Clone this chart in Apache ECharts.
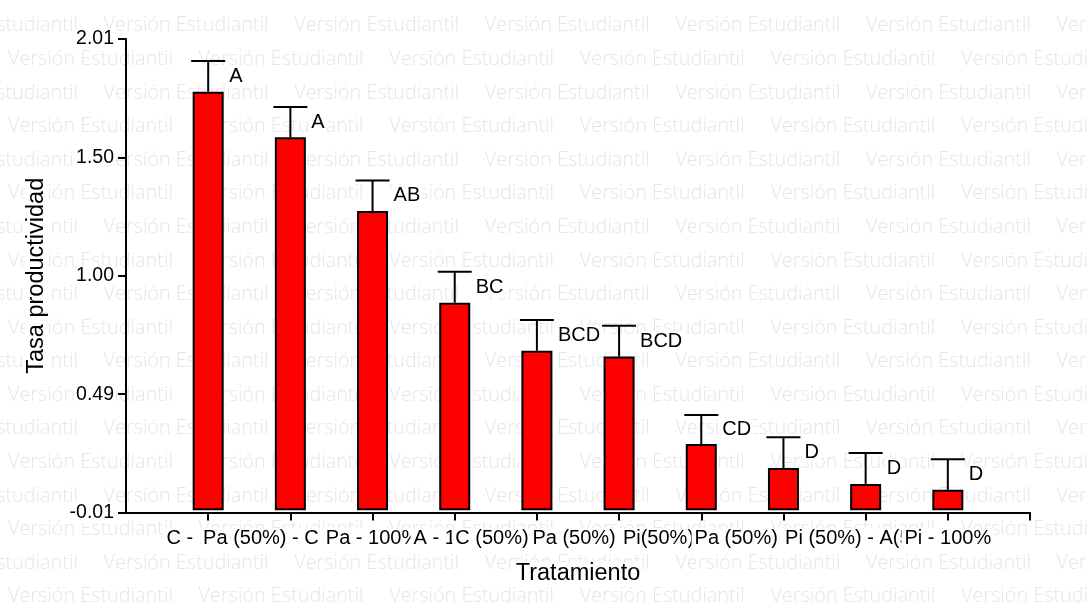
<!DOCTYPE html>
<html>
<head>
<meta charset="utf-8">
<title>Tasa productividad por tratamiento</title>
<script src="https://cdn.jsdelivr.net/npm/echarts@6/dist/echarts.min.js"></script>
<style>
  html, body { margin: 0; padding: 0; background: #fff; }
  #chart { width: 1087px; height: 610px; }
</style>
</head>
<body>
<div id="chart"></div>
<script>
// Treatments, mean productivity rate, standard error and group letters
const categories = [
  'C - 100%',
  'Pa (50%) - C (50%)',
  'Pa - 100%',
  'A - 100%',
  'C (50%) - A (50%)',
  'Pa (50%) - A (50%)',
  'Pi(50%) - C(50%)',
  'Pa (50%) - Pi (50%)',
  'Pi (50%) - A(50%)',
  'Pi - 100%'
];
const values = [1.785, 1.591, 1.276, 0.885, 0.680, 0.655, 0.282, 0.180, 0.112, 0.087];
const errors = [0.131, 0.129, 0.130, 0.132, 0.131, 0.132, 0.124, 0.131, 0.132, 0.130];
const letters = ['A', 'A', 'AB', 'BC', 'BCD', 'BCD', 'CD', 'D', 'D', 'D'];
const yTickLabels = ['-0.01', '0.49', '1.00', '1.50', '2.01'];
const yMin = -0.01, yMax = 2.01, yStep = 0.505;

const FONT = "'Liberation Sans', Arial, sans-serif";
const W = 1087, H = 610;

// Category slots sit at 1..n on a numeric axis running 0..n+1
const positions = categories.map((_, i) => i + 1);

// Background "Versión Estudiantil" stamp, tiled row by row
const stampText = 'Versión Estudiantil';
const stampFamily = "'Open Sans', 'Liberation Sans', sans-serif";
const meas = document.createElement('canvas').getContext('2d');
meas.font = '300 100px ' + stampFamily;
const stampSize = 100 * 165 / meas.measureText(stampText).width;
const stampStep = 190.6, rowStep = 33.58, rowStart = 25.8;
const stamps = [];
for (let r = 0; r < 18; r++) {
  const y = rowStart + r * rowStep;
  const x0 = (r % 2 === 0) ? -87 : 8;
  for (let x = x0; x < W; x += stampStep) {
    stamps.push({
      type: 'text', x: x, y: y, z: -10, silent: true,
      style: {
        text: stampText, fill: '#e6e6e6',
        font: '300 ' + stampSize.toFixed(2) + 'px ' + stampFamily,
        verticalAlign: 'middle', align: 'left'
      }
    });
  }
}

const chart = echarts.init(document.getElementById('chart'), null, { renderer: 'canvas' });

chart.setOption({
  backgroundColor: '#fff',
  animation: false,
  graphic: { elements: stamps },
  grid: { left: 126, right: 57, top: 39, bottom: 97.5, containLabel: false },
  xAxis: {
    type: 'value',
    min: 0,
    max: categories.length + 1,
    interval: 1,
    splitLine: { show: false },
    axisLine: { onZero: false, lineStyle: { color: '#000', width: 2 } },
    axisTick: {
      customValues: positions.concat([categories.length + 1]),
      length: 8,
      lineStyle: { color: '#000', width: 2 }
    },
    axisLabel: { show: false },
    name: 'Tratamiento',
    nameLocation: 'middle',
    nameGap: 49,
    nameTextStyle: { color: '#000', fontSize: 23.5, fontFamily: FONT, backgroundColor: '#fff', padding: [0, 2] }
  },
  yAxis: {
    type: 'value',
    min: yMin,
    max: yMax,
    interval: yStep,
    splitLine: { show: false },
    axisLine: { show: true, onZero: false, lineStyle: { color: '#000', width: 2 } },
    axisTick: { show: true, length: 8, lineStyle: { color: '#000', width: 2 } },
    axisLabel: {
      formatter: (v, idx) => yTickLabels[idx],
      color: '#000', fontSize: 19.5, fontFamily: FONT,
      margin: 10, backgroundColor: '#fff', padding: [0, 2]
    },
    name: 'Tasa productividad',
    nameLocation: 'middle',
    nameRotate: 90,
    nameGap: 77,
    nameTextStyle: { color: '#000', fontSize: 23.5, fontFamily: FONT, backgroundColor: '#fff', padding: [0, 2] }
  },
  series: [
    {
      type: 'bar',
      data: positions.map((p, i) => [p, values[i]]),
      barWidth: 31,
      itemStyle: { color: '#ff0000', borderColor: '#000', borderWidth: 2 },
      z: 2
    },
    {
      // one-sided error bars with the group letters beside them
      type: 'custom',
      data: positions.map((p, i) => [p, values[i], values[i] + errors[i], i]),
      renderItem: (params, api) => {
        const x = api.value(0);
        const top = api.coord([x, api.value(1)]);
        const cap = api.coord([x, api.value(2)]);
        const half = 17;
        const i = api.value(3);
        return {
          type: 'group',
          children: [
            { type: 'line', shape: { x1: top[0], y1: top[1], x2: cap[0], y2: cap[1] },
              style: { stroke: '#000', lineWidth: 2 } },
            { type: 'line', shape: { x1: cap[0] - half, y1: cap[1], x2: cap[0] + half, y2: cap[1] },
              style: { stroke: '#000', lineWidth: 2 } },
            { type: 'text', x: top[0] + half + 2, y: (top[1] + cap[1]) / 2,
              style: { text: letters[i], fill: '#000', fontSize: 20, fontFamily: FONT,
                       align: 'left', verticalAlign: 'middle', backgroundColor: '#fff', padding: [0, 2] } }
          ]
        };
      },
      z: 3
    },
    {
      // treatment names under each slot; each later name is painted over its neighbour
      type: 'custom',
      clip: false,
      data: positions.map((p, i) => [p, yMin, i]),
      renderItem: (params, api) => {
        const pt = api.coord([api.value(0), api.value(1)]);
        const i = api.value(2);
        return {
          type: 'text', x: pt[0], y: pt[1] + 16,
          style: { text: categories[i], fill: '#000', fontSize: 20, fontFamily: FONT,
                   align: 'center', verticalAlign: 'top', backgroundColor: '#fff', padding: [0, 3] }
        };
      },
      z: 4
    }
  ]
});
</script>
</body>
</html>
